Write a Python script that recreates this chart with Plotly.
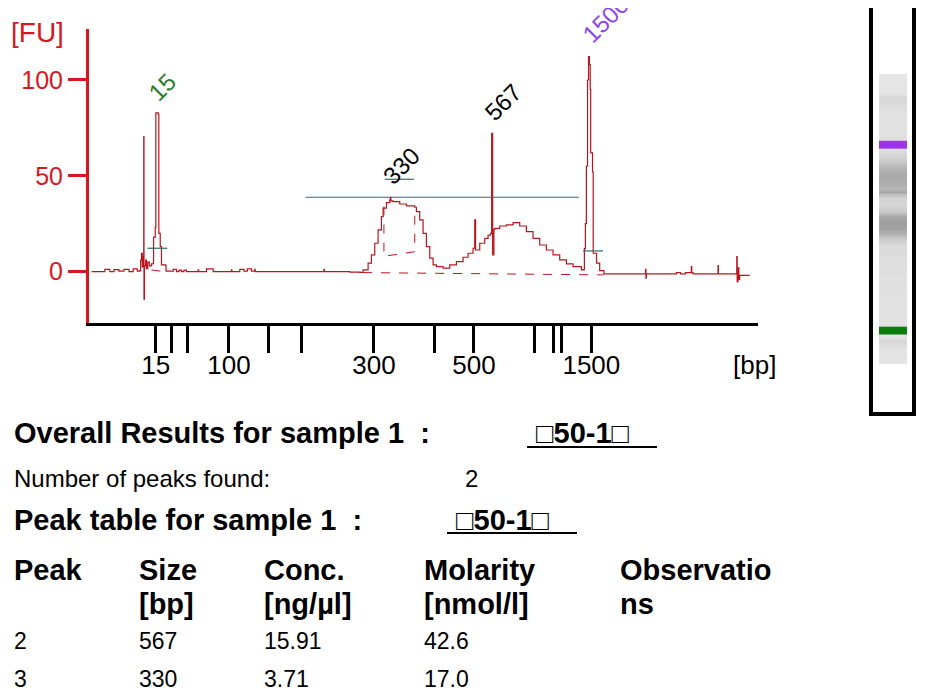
import plotly.graph_objects as go

W, H = 927, 699
PAGE_MARGIN = 8  # the browser page adds this offset around the figure
FONT = "Liberation Sans, Arial, sans-serif"
TRACE_RED = "#b8161e"
AXIS_RED = "#d7191f"
TEAL = "#2f6b6b"

# DNA ladder: fragment sizes and their migration times [s]
ladder_bp = [15, 25, 50, 100, 150, 200, 300, 400, 500, 700, 850, 1000, 1500]
ladder_time = [29.0, 30.9, 32.8, 37.8, 42.5, 46.5, 55.2, 62.5, 67.2, 74.5, 76.7, 77.7, 81.3]
labelled_bp = [15, 100, 300, 500, 1500]

# electropherogram of sample 1 (migration time [s], fluorescence [FU])
trace_time = [
    21.3, 22.9, 22.9, 23.5, 23.5, 24.0, 24.0, 24.6, 24.6, 25.2, 25.2, 25.8, 25.8, 26.3, 26.3, 26.8,
    26.8, 27.1, 27.2, 27.3, 27.4, 27.5, 27.57, 27.6, 27.66, 27.8, 27.9, 28.05, 28.25, 28.5, 28.7,
    28.75, 28.95, 29.02, 29.3, 29.38, 29.55, 29.7, 30.2, 30.25, 31.1, 31.1, 31.5, 31.5, 31.8, 31.8,
    32.1, 32.1, 32.4, 32.4, 32.7, 32.7, 34.1, 34.1, 34.15, 35.1, 35.1, 35.9, 35.9, 38.1, 38.1, 38.15,
    39.1, 39.1, 39.6, 39.6, 40.0, 40.0, 40.5, 40.5, 40.9, 40.9, 40.95, 49.2, 49.2, 49.25, 52.3, 53.5,
    53.9, 54.5, 54.9, 55.3, 55.7, 56.1, 56.3, 56.7, 57.1, 57.18, 57.24, 57.5, 58.3, 59.1, 60.1, 60.3,
    60.7, 61.1, 61.5, 61.9, 62.3, 62.7, 63.5, 64.3, 65.1, 65.9, 66.5, 67.1, 67.3, 67.4, 67.9, 68.5,
    68.9, 69.2, 69.33, 69.45, 69.6, 69.7, 70.3, 71.1, 71.9, 72.7, 73.5, 74.3, 75.1, 75.9, 76.7, 77.5,
    78.3, 79.1, 80.1, 80.3, 80.46, 80.58, 80.7, 80.84, 80.96, 81.06, 81.16, 81.22, 81.44, 81.52,
    81.92, 82.3, 82.8, 87.8, 87.8, 87.85, 87.9, 91.5, 91.5, 92.0, 92.0, 92.6, 92.6, 93.2, 93.3, 93.35,
    93.5, 96.5, 96.5, 96.55, 98.7, 98.75, 98.8, 98.9, 99.0, 99.1, 100.3,
]
trace_fu = [
    0.0, 0.0, 1.2, 1.2, 0.0, 0.0, 1.0, 1.0, 0.3, 0.3, 1.2, 1.2, 0.0, 0.0, 1.4, 1.4,
    0.3, 0.5, 6.0, 9.6, 2.5, 8.0, 70.4, -14.4, 3.0, 6.0, 1.5, 5.0, 3.0, 4.0, 4.5,
    18.0, 23.0, 82.8, 82.0, 20.0, 13.0, 3.5, 3.2, 0.3, 0.0, 1.2, 1.2, 0.0, 0.0, 0.8,
    0.8, 0.0, 0.0, 0.8, 0.8, 0.0, 0.0, 0.9, 0.0, 0.0, 1.4, 1.4, 0.0, 0.0, 0.9, 0.0,
    0.0, 1.2, 1.2, 0.3, 0.3, 1.4, 1.4, 0.3, 0.3, 1.2, 0.0, 0.0, 1.2, 0.0, -0.3, -0.4,
    0.9, 4.4, 8.7, 14.8, 21.8, 28.7, 33.1, 36.0, 37.4, 38.8, 36.9, 36.5, 35.3, 34.3, 33.6, 31.3,
    27.0, 20.0, 13.0, 7.0, 3.5, 2.6, 1.8, 3.5, 5.2, 7.5, 9.6, 12.2, 27.0, 11.3, 14.8, 17.4,
    19.1, 20.0, 72.2, 8.7, 22.0, 22.6, 23.8, 24.4, 25.6, 23.8, 20.9, 17.4, 13.9, 11.3, 8.7, 6.1,
    4.0, 2.6, 0.9, 1.0, 12.0, 25.0, 55.0, 100.0, 112.2, 108.0, 95.0, 62.0, 52.0, 9.6,
    4.4, 0.5, -1.2, -1.2, 1.2, -3.4, -1.2, -1.2, -0.5, -0.5, -1.2, -1.2, -0.5, -0.5, 2.6, -0.5,
    -1.2, -1.2, 3.1, -1.2, -1.2, 7.8, -5.2, 2.0, -4.0, -1.9, -1.9,
]

# dashed peak baselines and the integration box of peak 330
dash_time = [28.5, 30.5, None, 53.9, 82.8, None, 56.4, 56.4, 60.1, 60.1]
dash_fu = [0.9, -0.3, None, -0.5, -1.7, None, 34.0, 8.0, 10.4, 33.2]

# teal peak-width markers
mark_time = [28.0, 30.4, None, 56.5, 60.0, None, 47.0, 79.8, None, 80.3, 82.7]
mark_fu = [12.2, 12.2, None, 48.2, 48.2, None, 38.8, 38.8, None, 10.8, 10.8]

# peak labels
peak_label = ["15", "330", "567", "1500"]
peak_time = [29.16, 57.18, 69.33, 80.96]
peak_height = [82.8, 38.8, 72.2, 112.2]
peak_color = ["#2b7d2b", "black", "black", "#8e44ec"]

# gel-like lane (migration time [s], grey level 0-255)
gel_time = [19.6, 24.0, 26.4, 27.0, 31.0, 37.6, 43.3, 48.9, 53.1, 55.1, 56.2, 57.9, 59.6, 61.3,
            62.4, 64.3, 66.3, 67.4, 68.0, 68.8, 70.8, 72.8, 74.7, 76.4, 78.4, 79.8, 84.0, 89.6,
            94.7, 95.5, 101.2]
gel_shade = [228, 226, 214, 226, 226, 225, 224, 222, 218, 200, 178, 162, 158, 170,
             200, 214, 210, 190, 165, 182, 172, 170, 180, 200, 215, 220, 225, 226,
             215, 228, 230]

# result tables
sample_name = "\u25a150-1\u25a1"
n_peaks = 2
table_head = ["Peak", "Size", "Conc.", "Molarity", "Observatio"]
table_unit = ["", "[bp]", "[ng/µl]", "[nmol/l]", "ns"]
row_peak = ["2", "3"]
row_size = ["567", "330"]
row_conc = ["15.91", "3.71"]
row_molarity = ["42.6", "17.0"]


def px(x):
    return (x - PAGE_MARGIN) / W


def py(y):
    return 1 - (y - PAGE_MARGIN) / H


fig = go.Figure()

fig.add_trace(go.Scatter(x=trace_time, y=trace_fu, mode="lines",
                         line=dict(color=TRACE_RED, width=1.2, shape="hv"), hoverinfo="skip"))
fig.add_trace(go.Scatter(x=dash_time, y=dash_fu, mode="lines",
                         line=dict(color=TRACE_RED, width=1, dash="dash"), hoverinfo="skip"))
fig.add_trace(go.Scatter(x=mark_time, y=mark_fu, mode="lines",
                         line=dict(color=TEAL, width=1.2), hoverinfo="skip"))

# gel lane
fig.add_trace(go.Heatmap(x=[0], y=gel_time, z=[[s] for s in gel_shade], zsmooth="best",
                         colorscale=[[0, "black"], [1, "white"]], zmin=0, zmax=255,
                         showscale=False, xaxis="x2", yaxis="y2", hoverinfo="skip"))
for t, col in [(ladder_time[-1], "#9a32f0"), (ladder_time[0], "#0b7d0b")]:
    fig.add_shape(type="rect", xref="x2", yref="y2", x0=-0.5, x1=0.5, y0=t - 1.1, y1=t + 1.1,
                  fillcolor=col, line_width=0)
fig.add_shape(type="rect", xref="paper", yref="paper", x0=px(871), x1=px(914),
              y0=py(414), y1=py(3.5), line=dict(color="black", width=4))

# peak labels
shifts = [(6, 26), (11, 32), (11, 31), (17, 37)]
for lab, t, h, col, (dx, dy) in zip(peak_label, peak_time, peak_height, peak_color, shifts):
    fig.add_annotation(x=t, y=h, text=lab, showarrow=False, textangle=-45,
                       xanchor="center", yanchor="middle",
                       xshift=dx, yshift=dy, font=dict(family=FONT, size=24, color=col))

tick_text = [str(b) if b in labelled_bp else "" for b in ladder_bp]

fig.update_layout(
    width=W, height=H, autosize=False,
    margin=dict(l=0, r=0, t=0, b=0),
    paper_bgcolor="white", plot_bgcolor="white",
    showlegend=False,
    font=dict(family=FONT, color="black"),
    xaxis=dict(domain=[px(89), px(758)], range=[21.0, 101.3],
               tickvals=ladder_time, ticktext=tick_text, ticks="outside", ticklen=27,
               tickwidth=3, tickcolor="black", showline=True, linecolor="black", linewidth=3,
               ticklabelstandoff=-10,
               showgrid=False, zeroline=False, tickfont=dict(size=26, color="black")),
    yaxis=dict(domain=[py(323), py(29)], range=[-26.8, 126.6],
               tickvals=[0, 50, 100], ticks="outside", ticklen=18, tickwidth=3,
               tickcolor=AXIS_RED, showline=True, linecolor=AXIS_RED, linewidth=3,
               showgrid=False, zeroline=False, tickfont=dict(size=25, color=AXIS_RED)),
    xaxis2=dict(domain=[px(879), px(907)], range=[-0.5, 0.5], visible=False, anchor="y2"),
    yaxis2=dict(domain=[py(364), py(74)], range=[19.6, 101.2], visible=False, anchor="x2"),
)

fig.add_annotation(xref="paper", yref="paper", x=px(38), y=py(33), text="[FU]", showarrow=False,
                   xanchor="center", yanchor="middle",
                   font=dict(family=FONT, size=28, color=AXIS_RED))
fig.add_annotation(xref="paper", yref="paper", x=px(754), y=py(365), text="[bp]", showarrow=False,
                   xanchor="center", yanchor="middle",
                   font=dict(family=FONT, size=26, color="black"))


# text block below the chart (annotations pad their text by ~3px)
def text(x, y, s, size, bold=False):
    fig.add_annotation(xref="paper", yref="paper", x=px(x - 3), y=py(y), xanchor="left",
                       yanchor="middle", text=f"<b>{s}</b>" if bold else s, showarrow=False,
                       font=dict(family=FONT, size=size, color="black"))


text(15, 433, "Overall Results for sample 1  :", 29, True)
text(537, 433, sample_name, 29, True)
text(15, 478, "Number of peaks found:", 24)
text(466, 478, str(n_peaks), 24)
text(15, 520, "Peak table for sample 1  :", 29, True)
text(457, 520, sample_name, 29, True)
for x0, x1, y in [(527, 657, 447), (447, 577, 533)]:
    fig.add_shape(type="line", xref="paper", yref="paper", x0=px(x0), x1=px(x1), y0=py(y), y1=py(y),
                  line=dict(color="black", width=2))

col_x = [15, 140, 265, 425, 621]
for x, head, unit in zip(col_x, table_head, table_unit):
    text(x, 570, head, 29, True)
    if unit:
        text(x, 604, unit, 29, True)
for row_y, cells in zip([641, 679], zip(row_peak, row_size, row_conc, row_molarity)):
    for x, c in zip(col_x, cells):
        text(x, row_y, c, 23)

fig.write_html("out.html")
